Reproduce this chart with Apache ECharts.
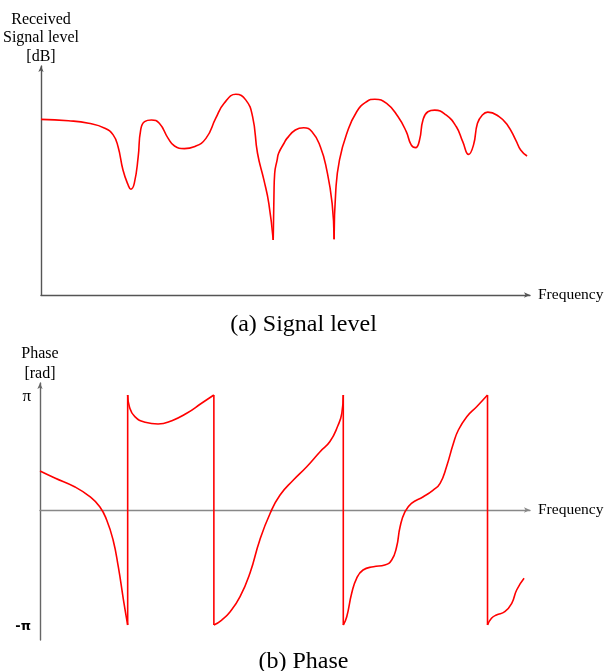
<!DOCTYPE html>
<html>
<head>
<meta charset="utf-8">
<title>Received signal level and phase vs frequency</title>
<script src="https://cdn.jsdelivr.net/npm/echarts@6/dist/echarts.min.js"></script>
<style>
  html, body { margin: 0; padding: 0; background: #fff; }
  #chart { width: 607px; height: 671px; }
</style>
</head>
<body>
<div id="chart"></div>
<script>
// Received signal level (arbitrary dB units) over frequency (arbitrary units),
// split at the two deep nulls so each arc is smoothed on its own.
const levelSeg1 = [
  [0, 75.7], [5.6, 75.1], [9.7, 74.0], [13.0, 71.9], [14.7, 69.0], [15.7, 63.9],
  [16.7, 53.9], [17.75, 47.4], [18.3, 45.6], [19.0, 48.1], [19.8, 59.6], [20.3, 71.1],
  [21.1, 74.7], [22.5, 75.4], [24.1, 74.0], [25.9, 67.5], [27.2, 64.2], [29.2, 63.1],
  [31.2, 63.9], [33.6, 67.5], [35.6, 76.2], [37.3, 82.6], [39.7, 86.5], [41.7, 84.1],
  [43.1, 76.9], [44.1, 61.1], [45.4, 49.6], [46.4, 39.5], [47.3, 23.7]
];
const levelSeg2 = [
  [47.3, 23.7], [47.45, 43.1], [47.6, 52.5], [48.1, 58.2], [48.4, 61.1], [49.5, 65.4],
  [50.1, 67.5], [51.8, 71.1], [53.5, 72.1], [55.2, 70.4], [56.9, 63.9], [58.2, 53.9],
  [59.3, 39.5], [59.7, 24.0]
];
const levelSeg3 = [
  [59.7, 24.0], [60.05, 45.3], [60.8, 58.2], [62.3, 69.7], [64.3, 79.0], [66.3, 83.3],
  [68.0, 84.4], [70.4, 82.6], [72.7, 76.9], [74.4, 70.4], [75.4, 64.7], [76.3, 63.5],
  [77.1, 66.8], [77.8, 75.4], [78.8, 79.0], [80.2, 79.7], [82.5, 77.6], [84.6, 72.5],
  [85.9, 66.1], [87.1, 60.6], [88.1, 64.7], [88.9, 74.0], [89.9, 77.6], [91.0, 78.8],
  [93.3, 76.9], [95.0, 73.3], [96.7, 66.8], [97.7, 62.5], [99.0, 59.9]
];

// Wrapped phase in radians; each branch runs between two 2π wraps.
const PI = Math.PI;
const phaseBranch1 = [
  [0, 1.065], [3.0, 0.874], [7.1, 0.628], [10.1, 0.363], [12.1, 0.090], [13.5, -0.273],
  [14.8, -0.820], [15.85, -1.549], [16.9, -2.459], [17.75, -PI]
];
const phaseBranch2 = [
  [17.75, PI], [18.1, 2.822], [19.2, 2.549], [21.3, 2.396], [23.9, 2.349], [26.7, 2.440],
  [29.7, 2.642], [32.7, 2.915], [35.2, PI]
];
const phaseBranch3 = [
  [35.2, -PI], [36.8, -3.005], [38.5, -2.778], [40.5, -2.369], [42.5, -1.729],
  [44.5, -0.820], [46.6, -0.090], [48.6, 0.410], [51.3, 0.820], [54.0, 1.183],
  [56.7, 1.593], [58.7, 1.870], [60.3, 2.300], [61.1, 2.640], [61.4, PI]
];
const phaseBranch4 = [
  [61.4, -PI], [62.1, -2.915], [63.1, -2.276], [64.1, -1.866], [65.4, -1.639],
  [67.5, -1.549], [69.8, -1.503], [71.2, -1.366], [72.2, -1.003], [72.9, -0.456],
  [73.9, -0.046], [75.2, 0.183], [77.6, 0.363], [79.6, 0.546], [81.0, 0.729],
  [82.3, 1.183], [83.7, 1.822], [84.7, 2.185], [86.4, 2.549], [88.4, 2.822], [90.6, PI]
];
const phaseBranch5 = [
  [90.6, -PI], [91.4, -2.959], [92.4, -2.868], [94.1, -2.778], [95.5, -2.549],
  [96.5, -2.185], [98.0, -1.866]
];

const phaseTicks = [-PI, PI];
const phaseTickText = { '-1': '{neg|-π}', '1': '{pos|π}' };

const levelSegments = [levelSeg1, levelSeg2, levelSeg3];
const phaseBranches = [phaseBranch1, phaseBranch2, phaseBranch3, phaseBranch4, phaseBranch5];

const RED = '#ff0000';
const SERIF = '"Liberation Serif", "DejaVu Serif", serif';
const AXIS_DARK = '#555';
const AXIS_GREY = '#888';

function curve(data, gridIdx) {
  return {
    type: 'line',
    xAxisIndex: gridIdx,
    yAxisIndex: gridIdx,
    data: data,
    smooth: 0.5,
    showSymbol: false,
    silent: true,
    lineStyle: { color: RED, width: 1.6 },
    z: 3
  };
}

const series = [];
levelSegments.forEach(seg => series.push(curve(seg, 0)));
phaseBranches.forEach(br => series.push(curve(br, 1)));
// vertical 2π wraps between consecutive phase branches
for (let i = 0; i < phaseBranches.length - 1; i++) {
  const a = phaseBranches[i], b = phaseBranches[i + 1];
  series.push({
    type: 'line',
    xAxisIndex: 1,
    yAxisIndex: 1,
    data: [a[a.length - 1], b[0]],
    smooth: false,
    showSymbol: false,
    silent: true,
    lineStyle: { color: RED, width: 1.6 },
    z: 3
  });
}

function xAxisDef(gridIdx, max, color) {
  return {
    type: 'value',
    gridIndex: gridIdx,
    min: 0,
    max: max,
    name: 'Frequency',
    nameLocation: 'end',
    nameGap: 8,
    nameTextStyle: { fontFamily: SERIF, fontSize: 15.5, color: '#000', align: 'left', verticalAlign: 'middle' },
    axisLine: { show: true, onZero: true, symbol: ['none', 'arrow'], symbolSize: [4, 6],
                lineStyle: { color: color, width: 1.4 } },
    axisTick: { show: false },
    axisLabel: { show: false },
    splitLine: { show: false }
  };
}

const option = {
  animation: false,
  backgroundColor: '#fff',
  title: [
    { text: '(a) Signal level', left: 'center', top: 308,
      textStyle: { fontFamily: SERIF, fontSize: 24, fontWeight: 'normal', color: '#000' } },
    { text: '(b) Phase', left: 'center', top: 645,
      textStyle: { fontFamily: SERIF, fontSize: 24, fontWeight: 'normal', color: '#000' } }
  ],
  grid: [
    { left: 38, top: 66, width: 492, height: 229 },
    { left: 40, top: 383, width: 490, height: 257 }
  ],
  xAxis: [
    xAxisDef(0, 99.6, AXIS_DARK),
    xAxisDef(1, 99.2, AXIS_GREY)
  ],
  yAxis: [
    {
      type: 'value',
      gridIndex: 0,
      min: 0,
      max: 98.7,
      name: 'Received\nSignal level\n[dB]',
      nameLocation: 'end',
      nameGap: 0,
      nameTextStyle: { fontFamily: SERIF, fontSize: 16, lineHeight: 18.5, color: '#000',
                       align: 'center', verticalAlign: 'bottom' },
      axisLine: { show: true, onZero: false, symbol: ['none', 'arrow'], symbolSize: [4, 6],
                  lineStyle: { color: AXIS_DARK, width: 1.4 } },
      axisTick: { show: false },
      axisLabel: { show: false },
      splitLine: { show: false }
    },
    {
      type: 'value',
      gridIndex: 1,
      min: -3.551,
      max: 3.469,
      name: 'Phase\n[rad]',
      nameLocation: 'end',
      nameGap: -1,
      nameTextStyle: { fontFamily: SERIF, fontSize: 16, lineHeight: 20, color: '#000',
                       align: 'center', verticalAlign: 'bottom' },
      axisLine: { show: true, onZero: false, symbol: ['none', 'arrow'], symbolSize: [4, 6],
                  lineStyle: { color: '#666', width: 1.4 } },
      axisTick: { show: false },
      axisLabel: {
        show: true,
        customValues: phaseTicks,
        margin: 9,
        formatter: v => phaseTickText[String(Math.round(v / PI))],
        rich: {
          pos: { fontFamily: SERIF, fontSize: 17, color: '#000', padding: [4, 0, 0, 0] },
          neg: { fontFamily: '"DejaVu Sans", sans-serif', fontSize: 13, fontWeight: 'bold', color: '#000', padding: [4, 0, 0, 0] }
        }
      },
      splitLine: { show: false }
    }
  ],
  series: series
};

const chart = echarts.init(document.getElementById('chart'), null, { renderer: 'canvas' });
chart.setOption(option);
</script>
</body>
</html>
